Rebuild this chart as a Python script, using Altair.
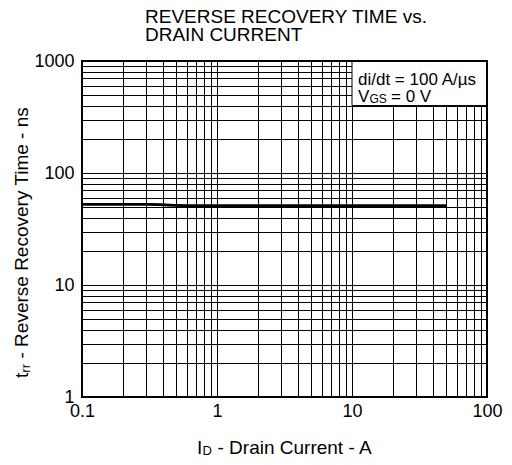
import altair as alt
import pandas as pd

FONT = "Liberation Sans"

# Data
drain_current = [0.1, 0.3, 0.6, 50]
trr_ns = [52.5, 52.5, 51, 51]

x_major = [0.1, 1, 10, 100]
y_major = [1, 10, 100, 1000]
x_grid = [0.1, 0.2, 0.3, 0.4, 0.5, 0.6, 0.7, 0.8, 0.9,
          1, 2, 3, 4, 5, 6, 7, 8, 9,
          10, 20, 30, 40, 50, 60, 70, 80, 90, 100]
y_grid = [1, 2, 3, 4, 5, 6, 7, 8, 9,
          10, 20, 30, 40, 50, 60, 70, 80, 90,
          100, 200, 300, 400, 500, 600, 700, 800, 900, 1000]

# legend box extent (data units)
box_x = [10, 100]
box_y = [400, 1000]

W, H = 405, 336

line_df = pd.DataFrame({"I": drain_current, "t": trr_ns})
box_df = pd.DataFrame({"x": [box_x[0]], "x2": [box_x[1]], "y": [box_y[0]], "y2": [box_y[1]]})
one = pd.DataFrame({"a": [0]})

xscale = alt.Scale(type="log", domain=[0.1, 100], nice=False)
yscale = alt.Scale(type="log", domain=[1, 1000], nice=False)

xaxis = alt.Axis(values=x_grid, format="~g",
                 labelExpr="indexof([0.1,1,10,100], datum.value) >= 0 ? datum.label : ''",
                 grid=True, gridColor="black", gridWidth=1, gridOpacity=1,
                 ticks=False, domain=False, labelFont=FONT, labelFontSize=18,
                 labelColor="black", labelPadding=5, labelFlush=False,
                 labelOverlap=False, labelBound=False, title=None)
yaxis = alt.Axis(values=y_grid, format="~g",
                 labelExpr="indexof([1,10,100,1000], datum.value) >= 0 ? datum.label : ''",
                 grid=True, gridColor="black", gridWidth=1, gridOpacity=1,
                 ticks=False, domain=False, labelFont=FONT, labelFontSize=18,
                 labelColor="black", labelPadding=8, labelFlush=False,
                 labelOverlap=False, labelBound=False, title=None)

line = alt.Chart(line_df).mark_line(color="black", strokeWidth=2.5).encode(
    x=alt.X("I:Q", scale=xscale, axis=xaxis),
    y=alt.Y("t:Q", scale=yscale, axis=yaxis),
)

box = alt.Chart(box_df).mark_rect(fill="white", stroke="black", strokeWidth=1).encode(
    x=alt.X("x:Q", scale=xscale), x2="x2:Q",
    y=alt.Y("y:Q", scale=yscale), y2="y2:Q",
)

frame = alt.Chart(one).mark_rect(filled=False, stroke="black", strokeWidth=2).encode(
    x=alt.value(0), x2=alt.value(W), y=alt.value(0), y2=alt.value(H)
)


def label(text, x, y, size, angle=0, align="left"):
    return alt.Chart(one).mark_text(
        text=text, font=FONT, fontSize=size, color="black",
        align=align, baseline="alphabetic", angle=angle
    ).encode(x=alt.value(x), y=alt.value(y))


texts = [
    # title
    label("REVERSE RECOVERY TIME vs.", 63, -38.5, 19),
    label("DRAIN CURRENT", 63, -20, 19),
    # legend
    label("di/dt = 100 A/\u00b5s", 276, 24, 17),
    label("V", 276, 41, 17),
    label("GS", 287.5, 42, 12),
    label("= 0 V", 309, 41, 17),
    # x title
    label("I", 115, 393, 19),
    label("D", 120.5, 394, 13),
    label("- Drain Current - A", 135.5, 393, 19),
    # y title (rotated)
    label("t", -54, 317, 19, angle=270),
    label("rr", -52, 311.7, 13, angle=270),
    label("- Reverse Recovery Time - ns", -54, 297.5, 19, angle=270),
]

chart = alt.layer(line, box, line, frame, *texts).properties(
    width=W, height=H,
    autosize=alt.AutoSizeParams(type="none"),
    padding={"left": 74, "top": 53, "right": 17, "bottom": 60},
).configure_view(stroke=None)

chart.save("out.html", embed_options={"renderer": "svg", "actions": False})
